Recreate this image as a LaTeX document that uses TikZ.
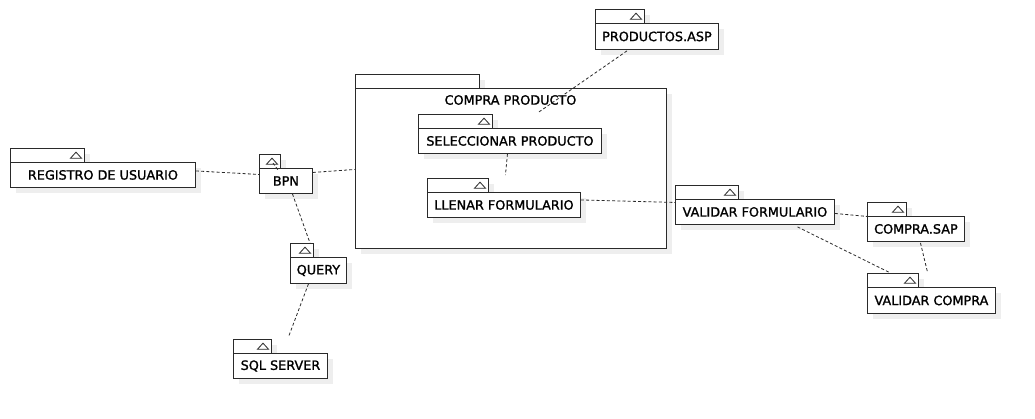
\documentclass[tikz,border=0pt]{standalone}
\usepackage{fontspec}
\setmainfont{DejaVu Sans}
\newfontfamily\boxfont[RawFeature={embolden=1.3}]{DejaVu Sans}
\usetikzlibrary{calc}
\definecolor{shadowc}{HTML}{EEEEEE}
\definecolor{linec}{HTML}{2A2A2A}
\tikzset{
  pkgbody/.style={draw=linec, line width=0.9pt, fill=white, anchor=north west, inner sep=0pt, font=\boxfont\fontsize{12.8}{14}\selectfont, align=center},
  pkgtab/.style={draw=linec, line width=0.9pt, fill=white},
  tri/.style={draw=linec, line width=0.8pt},
  conn/.style={draw=linec, line width=0.8pt, dash pattern=on 3pt off 2.2pt},
  shade/.style={fill=shadowc, draw=none}
}
% name, x, y, w, h, tabw, text
\newcommand{\umlpk}[7]{%
  \fill[shade] (#2+6,#3-8) rectangle ++(#6,14);
  \fill[shade] (#2+6,#3+6) rectangle ++(#4,#5);
  \node[pkgbody, minimum width=#4pt, minimum height=#5pt] (#1) at (#2,#3) {#7};
  \draw[pkgtab] (#1.north west) rectangle ++(#6,-14);
  \draw[tri] ($(#1.north west)+(#6-8,-3.8)$) +(-5.5,0) -- +(5.5,0) -- +(0,-6) -- cycle;
}
\begin{document}
\begin{tikzpicture}[x=1pt,y=-1pt]
\useasboundingbox[fill=white] (0,0) rectangle (1035,419);

% package COMPRA PRODUCTO
\fill[shade] (361,80) rectangle ++(124,14);
\fill[shade] (361,94) rectangle ++(311,160);
\node[pkgbody, minimum width=311pt, minimum height=160pt] (pkg) at (355,88) {};
\draw[pkgtab] (pkg.north west) rectangle ++(124,-14);
\node[font=\boxfont\fontsize{12.8}{14}\selectfont, inner sep=0pt] (pkglabel) at (510.5,100) {COMPRA PRODUCTO};

\umlpk{reg}{10}{162}{185}{25}{74}{REGISTRO DE USUARIO}
\umlpk{bpn}{259}{168}{53}{25}{21}{BPN}
\umlpk{query}{290}{257}{56}{26}{23}{QUERY}
\umlpk{sql}{233}{353}{94}{25}{38}{SQL SERVER}
\umlpk{prod}{595}{23}{123}{26}{49}{PRODUCTOS.ASP}
\umlpk{sel}{418}{128}{183}{25}{74}{SELECCIONAR PRODUCTO}
\umlpk{lle}{427}{192}{153}{25}{61}{LLENAR FORMULARIO}
\umlpk{vf}{675}{199}{159}{25}{63}{VALIDAR FORMULARIO}
\umlpk{csap}{867}{216}{97}{25}{39}{COMPRA.SAP}
\umlpk{vc}{867}{287}{128}{26}{51}{VALIDAR COMPRA}

% connectors
\draw[conn] ($(reg.east)+(0,-4)$) -- ($(bpn.west)+(0,-6.5)$);
\draw[conn] ($(bpn.east)+(0,-8.5)$) -- ($(pkg.west)+(0,1)$);
\draw[conn] ($(bpn.south)+(6.5,0)$) -- ($(query.north west)+(20,-14)$);
\draw[conn] ($(bpn.north west)+(14,-5)$) -- ($(bpn.north west)+(19,2)$);
\draw[conn] ($(query.south)+(-10,0)$) -- ($(sql.north)+(8,-16)$);
\draw[conn] ($(prod.south)+(-30,1)$) -- ($(sel.north)+(27.5,-15)$);
\draw[conn] ($(sel.south)+(-2.5,0)$) -- ($(lle.north)+(1.5,-17)$);
\draw[conn] ($(lle.east)+(0,-5)$) -- ($(vf.west)+(0,-9.5)$);
\draw[conn] ($(vf.east)+(0,1.5)$) -- ($(csap.west)+(0,-12.5)$);
\draw[conn] ($(vf.south)+(42.5,2)$) -- ($(vc.north)+(-41,-14)$);
\draw[conn] ($(csap.south)+(4.5,1)$) -- ($(vc.north)+(-4,-15)$);
\end{tikzpicture}
\end{document}
